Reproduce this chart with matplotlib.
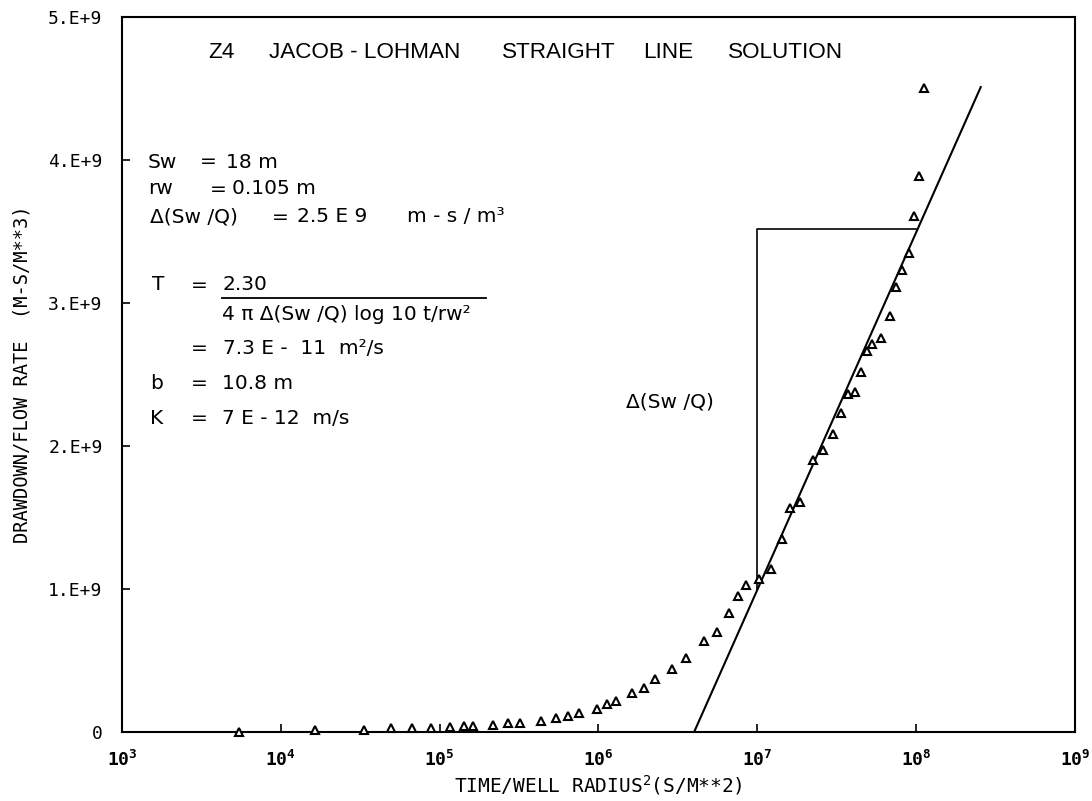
import matplotlib
matplotlib.use('Agg')
import matplotlib.pyplot as plt

# time / well radius^2 (s/m^2) and drawdown / flow rate (units of 1e9 m-s/m^3)
time_ratio = [5.47e3, 1.65e4, 3.32e4, 4.91e4, 6.66e4, 8.78e4, 1.156e5, 1.417e5,
              1.615e5, 2.159e5, 2.685e5, 3.198e5, 4.336e5, 5.395e5, 6.423e5,
              7.534e5, 9.79e5, 1.132e6, 1.289e6, 1.626e6, 1.936e6, 2.27e6,
              2.909e6, 3.565e6, 4.634e6, 5.596e6, 6.657e6, 7.586e6, 8.531e6,
              1.03e7, 1.225e7, 1.439e7, 1.615e7, 1.866e7, 2.255e7, 2.608e7,
              3.013e7, 3.342e7, 3.698e7, 4.15e7, 4.467e7, 4.875e7, 5.236e7,
              5.97e7, 6.808e7, 7.43e7, 8.11e7, 8.974e7, 9.638e7, 1.037e8, 1.114e8]
drawdown = [0.0, 0.014, 0.014, 0.028, 0.028, 0.028, 0.035, 0.042, 0.042, 0.049,
            0.063, 0.063, 0.077, 0.098, 0.112, 0.133, 0.161, 0.196, 0.217,
            0.273, 0.308, 0.371, 0.441, 0.517, 0.636, 0.699, 0.832, 0.951,
            1.028, 1.07, 1.14, 1.35, 1.566, 1.608, 1.902, 1.972, 2.084, 2.231,
            2.364, 2.378, 2.517, 2.664, 2.713, 2.755, 2.909, 3.112, 3.231,
            3.35, 3.608, 3.888, 4.503]

# fitted straight line and the one-decade construction
fit_t = [4.0e6, 2.55e8]
fit_s = [0.0, 4.51]
decade_t = [1.0e7, 1.0e7, 1.0e8]
decade_s = [1.0, 3.52, 3.52]

x_ticks = [1e3, 1e4, 1e5, 1e6, 1e7, 1e8, 1e9]
x_labels = [r'$\mathregular{10^{%d}}$' % e for e in range(3, 10)]
y_ticks = [0, 1, 2, 3, 4, 5]
y_labels = ['0', '1.E+9', '2.E+9', '3.E+9', '4.E+9', '5.E+9']

title_words = [(208, 'Z4'), (269, 'JACOB - LOHMAN'), (502, 'STRAIGHT'),
               (643, 'LINE'), (728, 'SOLUTION')]

# (x px, y px, text) for the hand-written notes
notes = [
    (148, 162, 'Sw'), (200, 162, '='), (226, 162, '18 m'),
    (148, 189, 'rw'), (210, 189, '='), (232, 189, '0.105 m'),
    (150, 217, 'Δ(Sw /Q)'), (272, 217, '='), (297, 217, '2.5 E 9'),
    (407, 217, 'm - s / m³'),
    (152, 285, 'T'), (191, 285, '='), (222, 285, '2.30'),
    (222, 314, '4 π Δ(Sw /Q) log 10 t/rw²'),
    (191, 349, '='), (223, 349, '7.3 E -  11  m²/s'),
    (150, 383, 'b'), (191, 383, '='), (222, 383, '10.8 m'),
    (150, 418, 'K'), (191, 418, '='), (222, 418, '7 E - 12  m/s'),
    (626, 402, 'Δ(Sw /Q)'),
]

mono = 'DejaVu Sans Mono'
W, H = 1092, 801

fig = plt.figure(figsize=(10.92, 8.01), dpi=100)
ax = fig.add_axes([122 / W, 1 - 732 / H, 953 / W, 715 / H])

ax.plot(fit_t, fit_s, color='black', lw=1.5)
ax.plot(decade_t, decade_s, color='black', lw=1.2)
ax.plot(time_ratio, drawdown, linestyle='none', marker='^', ms=5.5,
        mfc='white', mec='black', mew=1.5, clip_on=False, zorder=5)

ax.set_xscale('log')
ax.set_xlim(1e3, 1e9)
ax.set_ylim(0, 5)
ax.minorticks_off()
ax.set_xticks(x_ticks)
ax.set_xticklabels(x_labels, fontfamily=mono, fontsize=13, fontweight='bold')
ax.set_yticks(y_ticks)
ax.set_yticklabels(y_labels, fontfamily=mono, fontsize=13)
ax.tick_params(direction='in', length=6, width=1.2, top=False, right=False)
ax.tick_params(axis='x', pad=13)
ax.tick_params(axis='y', pad=14)
for sp in ax.spines.values():
    sp.set_linewidth(1.5)

ax.set_xlabel('TIME/WELL RADIUS$^{\\mathregular{2}}$(S/M**2)', fontfamily=mono,
              fontsize=14, labelpad=2)
ax.set_ylabel('DRAWDOWN/FLOW RATE  (M-S/M**3)', fontfamily=mono, fontsize=13.5,
              labelpad=12)

for x, word in title_words:
    fig.text(x / W, 1 - 52 / H, word, fontfamily='Liberation Sans',
             fontsize=16.2, va='center', ha='left')

for x, y, s in notes:
    fig.text(x / W, 1 - y / H, s, fontfamily='DejaVu Sans', fontsize=14.5,
             va='center', ha='left')

fig.add_artist(plt.Line2D([222 / W, 486 / W], [1 - 298 / H, 1 - 298 / H],
                          color='black', lw=1.3))

fig.savefig('out.png', dpi=100)
